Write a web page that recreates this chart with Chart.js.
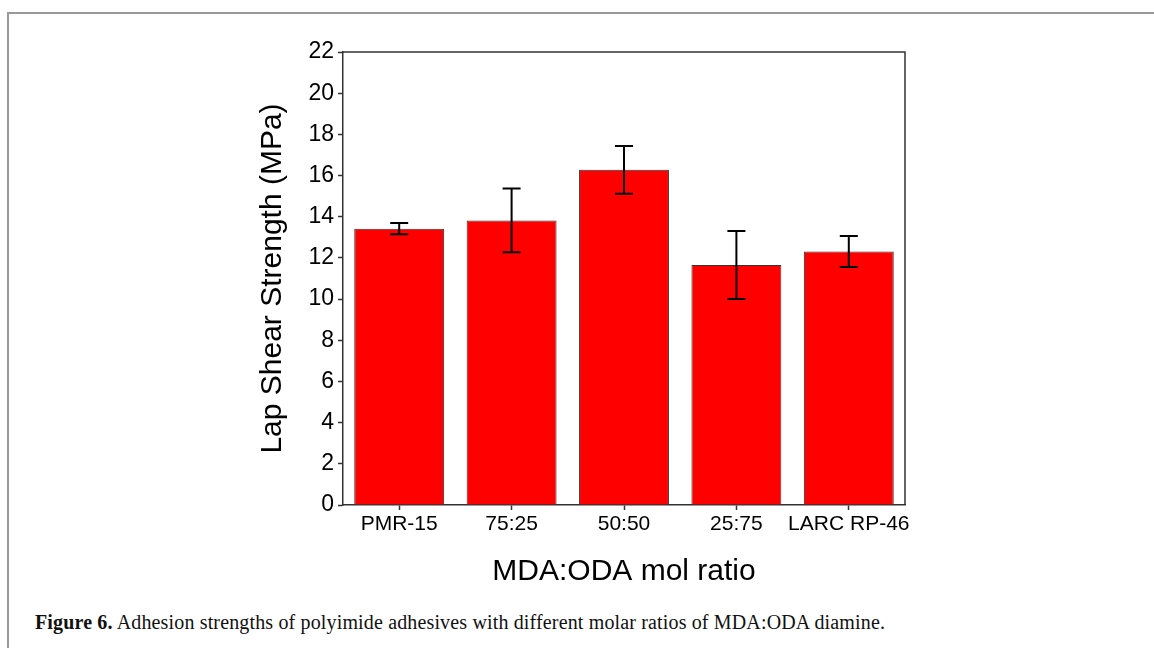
<!DOCTYPE html>
<html>
<head>
<meta charset="utf-8">
<script src="https://cdn.jsdelivr.net/npm/chart.js@4"></script>
<style>
  body { margin: 0; width: 1154px; height: 648px; background: #fff; overflow: hidden; position: relative; }
  #frame { position: absolute; left: 7px; top: 12px; width: 1200px; height: 700px;
           border-top: 2px solid #999; border-left: 2px solid #999; }
  #wrap { position: absolute; left: 200px; top: 20px; width: 800px; height: 580px; }
  #caption { position: absolute; left: 35px; top: 611px; font-family: "Liberation Serif", serif;
             font-size: 20px; letter-spacing: 0.15px; color: #111; white-space: nowrap; }
</style>
</head>
<body>
<div id="frame"></div>
<div id="wrap"><canvas id="shearChart" width="800" height="580"></canvas></div>
<div id="caption"><b>Figure 6.</b> Adhesion strengths of polyimide adhesives with different molar ratios of MDA:ODA diamine.</div>
<script>
const ctx = document.getElementById("shearChart").getContext("2d");

// lap shear strength
const labels = ["PMR-15", "75:25", "50:50", "25:75", "LARC RP-46"];
const strength = [13.42, 13.82, 16.28, 11.66, 12.31];
const errors = [0.27, 1.55, 1.16, 1.65, 0.75];

const FONT = "'Liberation Sans', Arial, sans-serif";

// error bars + top/right frame of the plot
const extras = {
  id: "extras",
  afterDatasetsDraw(chart) {
    const c = chart.ctx;
    const y = chart.scales.y;
    const bars = chart.getDatasetMeta(0).data;
    c.save();
    c.strokeStyle = "#000";
    c.lineWidth = 2;
    bars.forEach((bar, i) => {
      const hi = y.getPixelForValue(strength[i] + errors[i]);
      const lo = y.getPixelForValue(strength[i] - errors[i]);
      c.beginPath();
      c.moveTo(bar.x, hi);
      c.lineTo(bar.x, lo);
      c.moveTo(bar.x - 9, hi);
      c.lineTo(bar.x + 9, hi);
      c.moveTo(bar.x - 9, lo);
      c.lineTo(bar.x + 9, lo);
      c.stroke();
    });
    const a = chart.chartArea;
    c.strokeStyle = "#333";
    c.lineWidth = 1.5;
    c.beginPath();
    c.moveTo(a.left, a.top);
    c.lineTo(a.right, a.top);
    c.lineTo(a.right, a.bottom);
    c.stroke();
    c.restore();
  },
};

new Chart(ctx, {
  type: "bar",
  data: {
    labels: labels,
    datasets: [
      {
        data: strength,
        backgroundColor: "#ff0000",
        borderColor: "#333",
        borderWidth: 1,
        barPercentage: 0.8,
        categoryPercentage: 1.0,
      },
    ],
  },
  options: {
    responsive: false,
    devicePixelRatio: 1,
    animation: false,
    layout: { padding: { top: 32, right: 95, left: 0, bottom: 0 } },
    plugins: {
      legend: { display: false },
      tooltip: { enabled: false },
    },
    scales: {
      x: {
        offset: true,
        grid: { drawOnChartArea: false, offset: false, tickLength: 5, tickColor: "#333", tickWidth: 1.5 },
        border: { color: "#333", width: 1.5 },
        ticks: { font: { family: FONT, size: 21 }, color: "#000", padding: 2, maxRotation: 0, autoSkip: false },
        title: {
          display: true,
          text: "MDA:ODA mol ratio",
          font: { family: FONT, size: 30 },
          color: "#000",
          padding: { top: 0, bottom: 10 },
        },
        afterFit: (s) => { s.height = 95; },
      },
      y: {
        min: 0,
        max: 22,
        ticks: { stepSize: 2, font: { family: FONT, size: 23 }, color: "#000", padding: 4 },
        grid: { drawOnChartArea: false, tickLength: 5, tickColor: "#333", tickWidth: 1.5 },
        border: { color: "#333", width: 1.5 },
        title: {
          display: true,
          text: "Lap Shear Strength (MPa)",
          font: { family: FONT, size: 30 },
          color: "#000",
          padding: { top: 55, bottom: 0 },
        },
        afterFit: (s) => { s.width = 143; },
      },
    },
  },
  plugins: [extras],
});
</script>
</body>
</html>
